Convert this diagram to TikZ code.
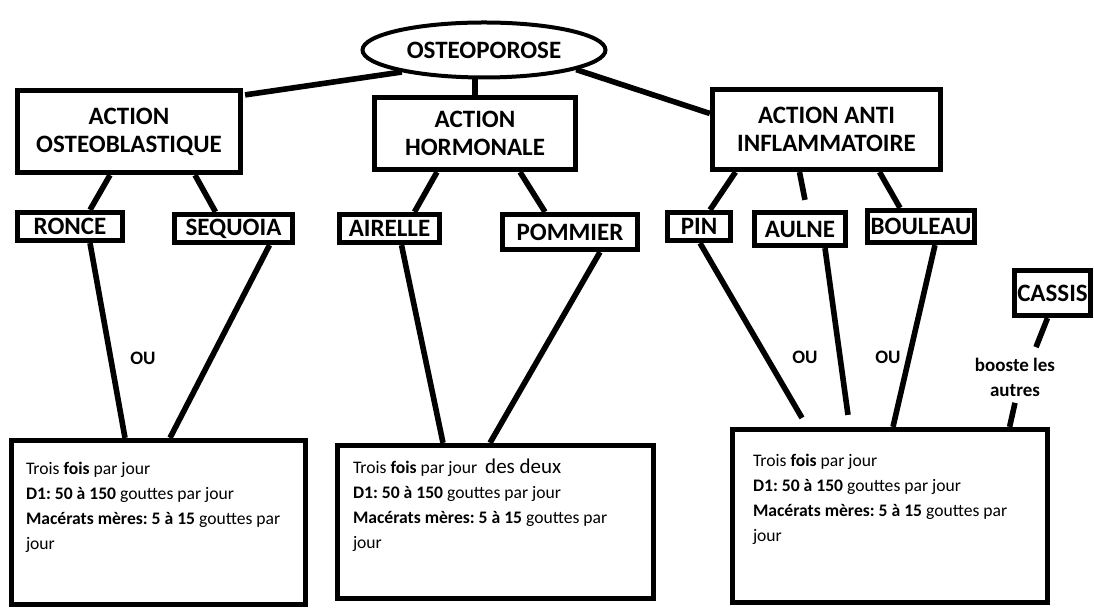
\documentclass[tikz,border=0pt]{standalone}
\usepackage{fontspec}
\setmainfont{Carlito}
\usetikzlibrary{positioning,calc,shapes.geometric}

\begin{document}
\begin{tikzpicture}[
  x=0.5pt, y=-0.5pt,
  line width=2.6pt,
  head/.style={draw, line width=2.6pt, inner sep=0pt, align=center,
    font=\fontsize{12.5}{14}\selectfont\bfseries},
  plant/.style={draw, line width=2.6pt, inner sep=0pt,
    font=\fontsize{12.5}{14}\selectfont\bfseries},
  dose/.style={draw, line width=2.6pt, inner sep=0pt},
  dosetxt/.style={inner sep=0pt, align=left, anchor=north west,
    font=\fontsize{8.8}{12.5}\selectfont\frenchspacing},
  lab/.style={inner sep=1pt, align=center,
    font=\fontsize{9.5}{12.5}\selectfont\bfseries},
  ln/.style={line width=2.8pt}
]
  \useasboundingbox (0,0) rectangle (1094,608);

  % maladie
  \node[head, ellipse, line width=2pt, minimum width=121.5pt, minimum height=27.5pt]
    (root) at (484,50) {OSTEOPOROSE};

  % trois actions
  \node[head, minimum width=111.5pt, minimum height=41pt] (osteo) at (129,131.5)
    {ACTION\\OSTEOBLASTIQUE};
  \node[head, minimum width=100.5pt, minimum height=36pt] (hormo) at (475,133.5)
    {ACTION\\HORMONALE};
  \node[head, minimum width=114pt, minimum height=40pt] (anti) at (826.5,129.5)
    {ACTION ANTI\\INFLAMMATOIRE};

  % plantes
  \node[plant, minimum width=52.5pt, minimum height=14pt] (ronce) at (70,226.5) {RONCE};
  \node[plant, minimum width=59pt, minimum height=14pt] (sequoia) at (233.5,228.5) {SEQUOIA};
  \node[plant, minimum width=50pt, minimum height=14pt] (airelle) at (389.5,228.5) {AIRELLE};
  \node[plant, minimum width=67.5pt, minimum height=17.5pt] (pommier) at (570,232) {POMMIER};
  \node[plant, minimum width=31.5pt, minimum height=14pt] (pin) at (699,226.5) {PIN};
  \node[plant, minimum width=45.5pt, minimum height=16.5pt] (aulne) at (800,229) {AULNE};
  \node[plant, minimum width=53.5pt, minimum height=16pt] (bouleau) at (921,226.5) {BOULEAU};
  \node[plant, minimum width=38pt, minimum height=22.5pt] (cassis) at (1052.5,293) {CASSIS};

  % posologies
  \node[dose, minimum width=147pt, minimum height=82pt] (dose1) at (158.5,522.5) {};
  \node[dose, minimum width=158pt, minimum height=76.5pt] (dose2) at (495.5,522) {};
  \node[dose, minimum width=157.5pt, minimum height=86.5pt] (dose3) at (890,516) {};

  \node[dosetxt, below right=10.75pt and 7.25pt of dose1.north west] (txt1)
    {Trois \textbf{fois} par jour\\\textbf{D1: 50 à 150} gouttes par jour\\\textbf{Macérats mères: 5 à 15} gouttes par\\jour};
  \node[dosetxt, below right=6.75pt and 7.75pt of dose2.north west] (txt2)
    {Trois \textbf{fois} par jour \ {\fontsize{10.5}{12.5}\selectfont des deux}\\\textbf{D1: 50 à 150} gouttes par jour\\\textbf{Macérats mères: 5 à 15} gouttes par\\jour};
  \node[dosetxt, below right=12.25pt and 10.25pt of dose3.north west] (txt3)
    {Trois \textbf{fois} par jour\\\textbf{D1: 50 à 150} gouttes par jour\\\textbf{Macérats mères: 5 à 15} gouttes par\\jour};

  % etiquettes
  \node[lab] (ou1) at (143,358) {OU};
  \node[lab] (ou2) at (805,357) {OU};
  \node[lab] (ou3) at (888,357) {OU};
  \node[lab] (boost) at (1015,377) {booste les\\autres};

  % liaisons
  \draw[ln] (root.195) -- ($(osteo.north east)+(2,7)$);
  \draw[ln] (hormo.north) -- (hormo.north |- root.south);
  \draw[ln] (root.-12) -- ($(anti.west)+(0,-16)$);

  \draw[ln] ($(osteo.south)+(-19,0)$) -- ($(ronce.north)+(20,0)$);
  \draw[ln] ($(osteo.south)+(66,0)$) -- ($(sequoia.north)+(-18,0)$);
  \draw[ln] ($(hormo.south)+(-38,0)$) -- ($(airelle.north)+(25,0)$);
  \draw[ln] ($(hormo.south)+(45,0)$) -- ($(pommier.north)+(-25,0)$);
  \draw[ln] ($(anti.south)+(-91,0)$) -- ($(pin.north)+(11,0)$);
  \draw[ln] ($(anti.south)+(-27,0)$) -- ($(aulne.north)+(5,-10)$);
  \draw[ln] ($(anti.south)+(53,0)$) -- ($(bouleau.north)+(-21,0)$);

  \draw[ln] ($(ronce.south)+(20,0)$) -- ($(dose1.north)+(-33.5,0)$);
  \draw[ln] ($(sequoia.south)+(36,0)$) -- ($(dose1.north)+(11.5,0)$);
  \draw[ln] ($(airelle.south)+(12,0)$) -- ($(dose2.north)+(-52.5,0)$);
  \draw[ln] ($(pommier.south)+(30,0)$) -- ($(dose2.north)+(-5.5,0)$);
  \draw[ln] ($(pin.south)+(1,0)$) -- ($(dose3.north)+(-88,-9)$);
  \draw[ln] ($(aulne.south)+(25,0)$) -- ($(dose3.north)+(-42,-12)$);
  \draw[ln] ($(bouleau.south)+(14,0)$) -- ($(dose3.north)+(3,0)$);

  \draw[ln] ($(cassis.south)+(-5,0)$) -- ($(boost.north)+(21,-6)$);
  \draw[ln] ($(boost.south)+(0,2)$) -- ($(dose3.north east)+(-40.5,0)$);
\end{tikzpicture}
\end{document}
